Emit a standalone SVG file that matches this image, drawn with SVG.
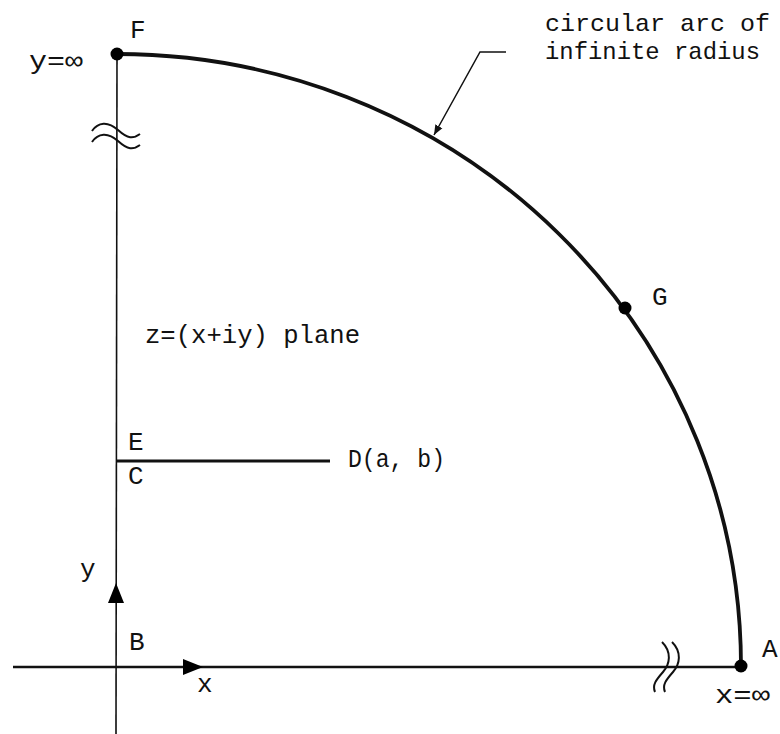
<svg xmlns="http://www.w3.org/2000/svg" width="780" height="734" viewBox="0 0 780 734">
<style>
text{font-family:"Liberation Mono","DejaVu Sans Mono",monospace;font-size:26px;fill:#111}
.sm{font-size:24px}
.ax{stroke:#111;fill:none}
.dot{fill:#000}
</style>
<defs>
<marker id="lead" viewBox="0 0 10 10" refX="10" refY="5" markerWidth="10" markerHeight="10" markerUnits="userSpaceOnUse" orient="auto">
<path d="M0,1 L10,5 L0,9 z" fill="#111"/>
</marker>
</defs>
<rect width="780" height="734" fill="#fff"/>
<g id="connectors">
<line class="ax" x1="117" y1="54" x2="116" y2="734" stroke-width="1.6"/>
<line class="ax" x1="13" y1="667" x2="741" y2="667" stroke-width="2.6"/>
<path class="ax" d="M117,54 A624,612 0 0 1 741,666" stroke-width="3.8"/>
<line class="ax" x1="116" y1="461" x2="330" y2="461" stroke-width="3"/>
<path class="ax" d="M506,52 L480,52 L434,135" stroke-width="1.5" marker-end="url(#lead)"/>
<path d="M116,583 L124,603 L108,603 z" fill="#000"/>
<path d="M203,667 L183,675 L183,659 z" fill="#000"/>
<path class="ax" d="M92,131 C98,122 108,121 118,130 S133,139 140,134" stroke-width="2"/>
<path class="ax" d="M92,142 C98,133 108,132 118,141 S133,150 140,145" stroke-width="2"/>
<path class="ax" d="M662,642 C672,652 670,664 663,672 S652,685 655,692" stroke-width="2"/>
<path class="ax" d="M672,642 C682,652 680,664 673,672 S662,685 665,692" stroke-width="2"/>
</g>
<g id="F"><circle class="dot" cx="117" cy="54" r="6.5"/><text x="130" y="38">F</text><text x="29" y="69" textLength="54" lengthAdjust="spacingAndGlyphs">y=∞</text></g>
<g id="G"><circle class="dot" cx="625" cy="308" r="6.5"/><text x="652" y="305">G</text></g>
<g id="A"><circle class="dot" cx="741" cy="666" r="6.5"/><text x="762" y="657">A</text><text x="715" y="703" textLength="55" lengthAdjust="spacingAndGlyphs">x=∞</text></g>
<g id="B"><text x="129" y="650">B</text></g>
<g id="E"><text x="128" y="450">E</text></g>
<g id="C"><text x="128" y="484">C</text></g>
<g id="D"><text x="348" y="467" textLength="97" lengthAdjust="spacingAndGlyphs">D(a, b)</text></g>
<g id="arc-label"><text class="sm" x="545" y="31" textLength="225" lengthAdjust="spacingAndGlyphs">circular arc of</text><text class="sm" x="545" y="59" textLength="215" lengthAdjust="spacingAndGlyphs">infinite radius</text></g>
<g id="plane-label"><text x="145" y="343" textLength="215" lengthAdjust="spacingAndGlyphs">z=(x+iy) plane</text></g>
<g id="axis-labels"><text x="80" y="577">y</text><text x="197" y="692">x</text></g>
</svg>
